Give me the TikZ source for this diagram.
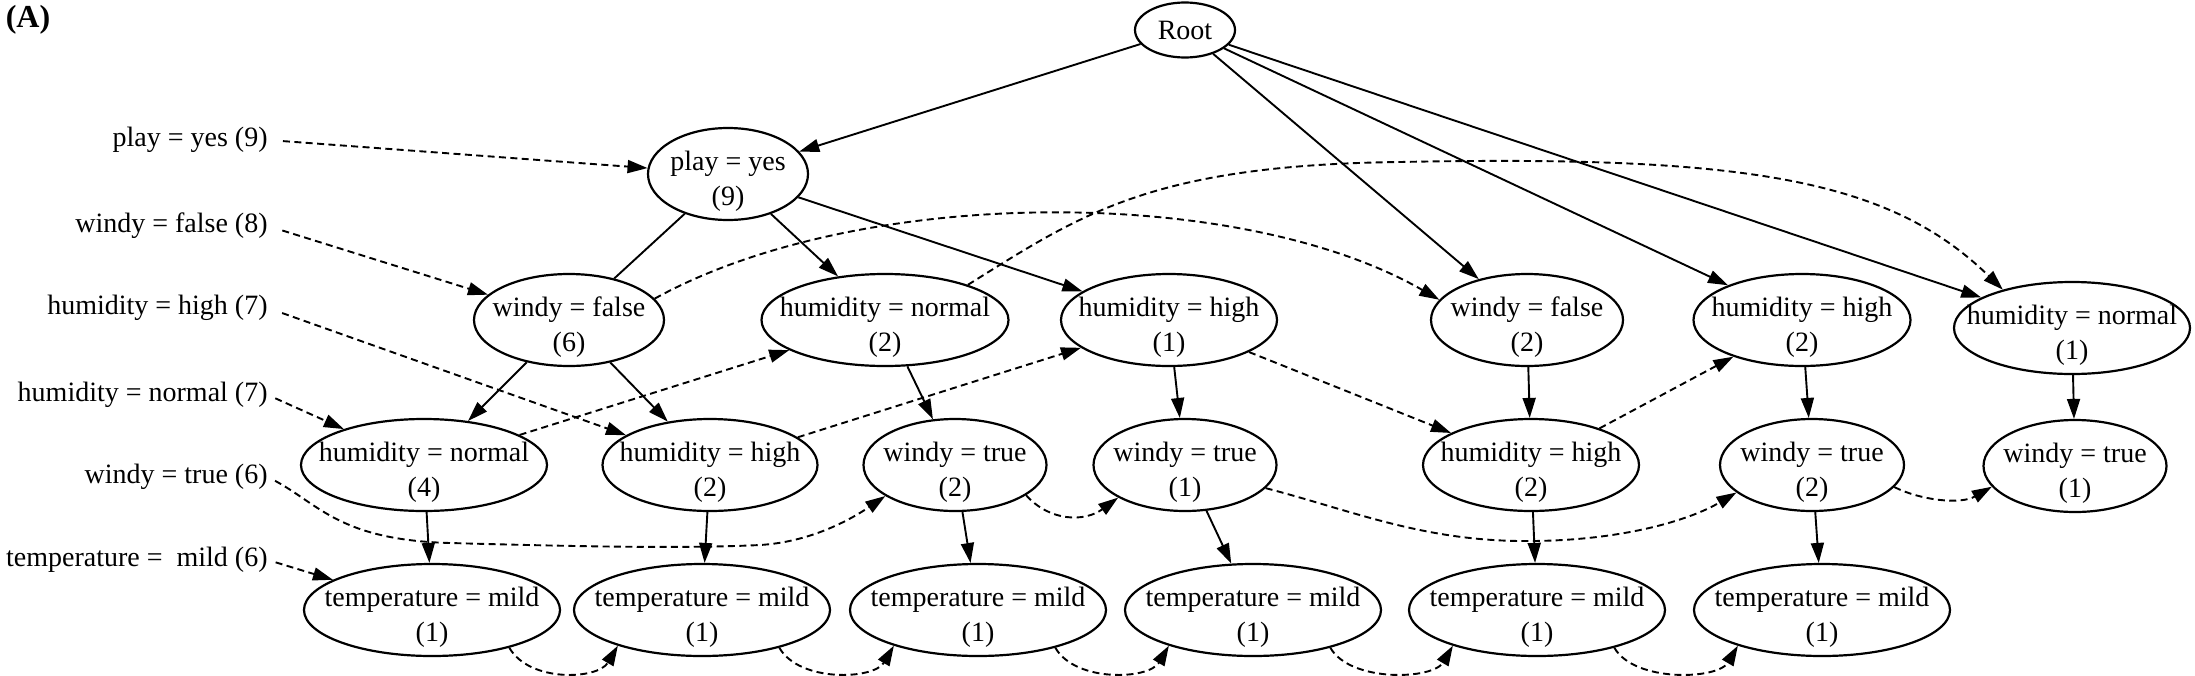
\documentclass[tikz,border=0pt]{standalone}
\usepackage{fontspec}
\setmainfont{Liberation Serif}
\usetikzlibrary{shapes.geometric,arrows.meta}
\newcommand\enode[5]{%
  \node[el, minimum width=#4pt] (#1) at (#2,#3) {};
  \node[txt] (#1t) at ([yshift=-3.5pt]#1) {#5};}
\begin{document}
\begin{tikzpicture}[x=0.5pt,y=-0.5pt,
  el/.style={ellipse, draw, line width=1.1pt, inner sep=0pt, minimum height=46pt},
  txt/.style={align=center, inner sep=0pt, font=\fontsize{14}{17.5}\selectfont},
  lab/.style={anchor=east, inner sep=0pt, font=\fontsize{14}{17.5}\selectfont},
  tip/.style={-{Triangle[length=10pt,width=6.5pt]}},
  arr/.style={line width=0.95pt, tip},
  seg/.style={line width=0.95pt},
  dl/.style={line width=0.95pt, dash pattern=on 3.5pt off 2.2pt, tip},
]
\useasboundingbox (0,0) rectangle (2195,675);

\node[font=\bfseries\fontsize{16}{18}\selectfont, inner sep=0pt] (lbA) at (28,20) {(A)};

% left labels
\node[lab] (lpy) at (268,140) {play = yes (9)};
\node[lab] (lwf) at (268,226) {windy = false (8)};
\node[lab] (lhh) at (268,308) {humidity = high (7)};
\node[lab] (lhn) at (268,395) {humidity = normal (7)};
\node[lab] (lwt) at (268,477) {windy = true (6)};
\node[lab] (ltm) at (268,560) {temperature = \ mild (6)};

% nodes
\node[el, minimum width=50pt, minimum height=27.5pt] (root) at (1185,30) {};
\node[txt] (roott) at (root) {Root};
\enode{py}{728}{174}{80}{play = yes\\(9)}
\enode{wfA}{569}{320}{95}{windy = false\\(6)}
\enode{hnA}{885}{320}{123.5}{humidity = normal\\(2)}
\enode{hhA}{1169}{320}{108}{humidity = high\\(1)}
\enode{wfB}{1527}{320}{96}{windy = false\\(2)}
\enode{hhB}{1802}{320}{108.5}{humidity = high\\(2)}
\enode{hnB}{2072}{328}{118}{humidity = normal\\(1)}
\enode{hnC}{424}{465}{123}{humidity = normal\\(4)}
\enode{hhC}{710}{465}{107.5}{humidity = high\\(2)}
\enode{wtA}{955}{465}{91.5}{windy = true\\(2)}
\enode{wtB}{1185}{465}{91.5}{windy = true\\(1)}
\enode{hhD}{1531}{465}{108}{humidity = high\\(2)}
\enode{wtC}{1812}{465}{92}{windy = true\\(2)}
\enode{wtD}{2075}{466}{91.5}{windy = true\\(1)}
\enode{t1}{432}{610}{128}{temperature = mild\\(1)}
\enode{t2}{702}{610}{128}{temperature = mild\\(1)}
\enode{t3}{978}{610}{128}{temperature = mild\\(1)}
\enode{t4}{1253}{610}{128}{temperature = mild\\(1)}
\enode{t5}{1537}{610}{128}{temperature = mild\\(1)}
\enode{t6}{1822}{610}{128}{temperature = mild\\(1)}

% tree edges
\draw[arr] (root) -- (py);
\draw[arr] (root) -- (wfB);
\draw[arr] (root) -- (hhB);
\draw[arr] (root) -- (hnB);
\draw[seg] (py) -- (wfA);
\draw[arr] (py) -- (hnA);
\draw[arr] (py) -- (hhA);
\draw[arr] (wfA) -- (hnC);
\draw[arr] (wfA) -- (hhC);
\draw[arr] (hnC) -- (t1);
\draw[arr] (hhC) -- (t2);
\draw[arr] (hnA) -- (wtA);
\draw[arr] (wtA) -- (t3);
\draw[arr] (hhA) -- (wtB);
\draw[arr] (wtB) -- (t4);
\draw[arr] (wfB) -- (hhD);
\draw[arr] (hhD) -- (t5);
\draw[arr] (hhB) -- (wtC);
\draw[arr] (wtC) -- (t6);
\draw[arr] (hnB) -- (wtD);

% header links
\draw[dl, shorten <=7.5pt] (lpy.east) -- (py);
\draw[dl, shorten <=7.5pt] (lwf.east) -- (wfA);
\draw[dl, shorten <=7.5pt] (lhh.east) -- (hhC);
\draw[dl, shorten <=4pt] (lhn.east) -- (hnC);
\draw[dl, shorten <=4pt] (lwt.east) .. controls (320,505) and (340,540) .. (450,543)
   .. controls (560,546) and (680,549) .. (760,545)
   .. controls (810,542) and (850,520) .. (wtA.204);
\draw[dl, shorten <=4pt] (ltm.east) -- (t1);

% node links
\draw[dl] (wfA.14) .. controls (860,185) and (1240,185) .. (wfB.167);
\draw[dl] (hnA.23) .. controls (1080,215) and (1150,165) .. (1400,162)
   .. controls (1750,155) and (1890,180) .. (hnB.151);
\draw[dl] (hnC) -- (hnA);
\draw[dl] (hhC) -- (hhA);
\draw[dl] (hhA) -- (hhD);
\draw[dl] (hhD) -- (hhB);
\draw[dl] (wtA.-23) .. controls (1050,522) and (1085,522) .. (wtB.206);
\draw[dl] (wtB.-16) .. controls (1350,510) and (1420,540) .. (1520,541)
   .. controls (1620,542) and (1690,520) .. (wtC.200);
\draw[dl] (wtC.-15) .. controls (1920,500) and (1960,505) .. (wtD.194);
\foreach \a/\b in {t1/t2,t2/t3,t3/t4,t4/t5,t5/t6}
  \draw[dl] (\a.-26) .. controls +(20,35) and +(-20,34) .. (\b.203.6);
\end{tikzpicture}
\end{document}
